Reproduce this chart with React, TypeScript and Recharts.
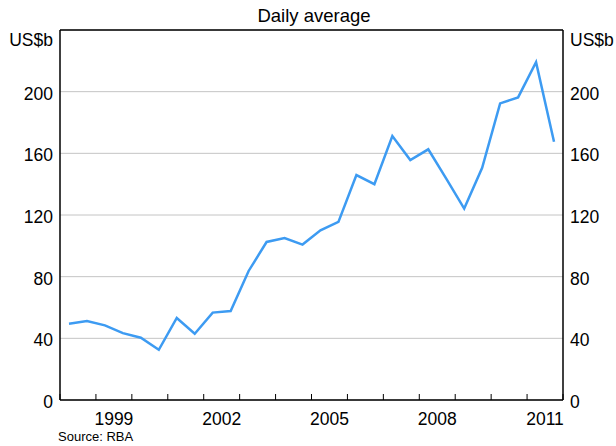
import { LineChart, Line, XAxis, YAxis, CartesianGrid, ReferenceLine } from 'recharts'

// half-year observations (mid-point of each half)
const periods = [
  1998.25, 1998.75, 1999.25, 1999.75, 2000.25, 2000.75, 2001.25, 2001.75,
  2002.25, 2002.75, 2003.25, 2003.75, 2004.25, 2004.75, 2005.25, 2005.75,
  2006.25, 2006.75, 2007.25, 2007.75, 2008.25, 2008.75, 2009.25, 2009.75,
  2010.25, 2010.75, 2011.25, 2011.75,
]
const turnover = [
  49.5, 51.2, 48.4, 43.4, 40.4, 32.6, 53.2, 43.0,
  56.7, 57.7, 83.7, 102.5, 105.1, 100.8, 110.1, 115.5,
  145.9, 140.0, 171.2, 155.6, 162.6, 143.6, 124.2, 150.6,
  192.4, 196.3, 219.1, 167.5,
]
const yearBoundaries = [
  1998, 1999, 2000, 2001, 2002, 2003, 2004, 2005, 2006, 2007, 2008, 2009, 2010, 2011, 2012,
]
const labelledYears = [1999, 2002, 2005, 2008, 2011]
const yTicks = [0, 40, 80, 120, 160, 200, 240]
const unitLabel = 'US$b'

const data = periods.map((p, i) => ({ period: p, value: turnover[i] }))
const labelTicks = labelledYears.map((y) => y + 0.5)
const xTicks = [...yearBoundaries, ...labelTicks].sort((a, b) => a - b)

const FONT = '"Liberation Sans", Arial, sans-serif'
const TICK_FONT = 17.5

function XTick({ x, y, payload }: any) {
  const v = payload.value as number
  if (Number.isInteger(v)) {
    return <line x1={x} x2={x} y1={y} y2={y - 6} stroke="#000" strokeWidth={1} />
  }
  return (
    <text x={x} y={y + 13} dy="0.71em" textAnchor="middle" fontSize={TICK_FONT} fill="#000" fontFamily={FONT}>
      {Math.floor(v)}
    </text>
  )
}

function YTick({ x, y, payload, textAnchor }: any) {
  const v = payload.value as number
  const top = v === yTicks[yTicks.length - 1]
  return (
    <text x={x} y={y} dy={top ? 16 : 8} textAnchor={textAnchor} fontSize={TICK_FONT} fill="#000" fontFamily={FONT}>
      {top ? unitLabel : v}
    </text>
  )
}

export default function App() {
  return (
    <div style={{ position: 'absolute', left: 0, top: 0, width: 616, height: 446, fontFamily: FONT, background: '#fff' }}>
      <div
        style={{
          position: 'absolute',
          left: 0,
          width: 628,
          top: 5,
          textAlign: 'center',
          fontSize: 18.5,
          lineHeight: '22px',
        }}
      >
        Daily average
      </div>
      <LineChart width={616} height={446} data={data} margin={{ top: 30, right: 0, bottom: 16, left: 0 }}>
        <CartesianGrid yAxisId="left" vertical={false} stroke="#c4c4c4" strokeWidth={1} />
        <XAxis
          dataKey="period"
          type="number"
          domain={[1998, 2012]}
          ticks={xTicks}
          interval={0}
          height={30}
          tickSize={0}
          tickMargin={0}
          tickLine={false}
          tick={<XTick />}
          axisLine={{ stroke: '#000', strokeWidth: 1.5 }}
          allowDataOverflow
        />
        <YAxis
          yAxisId="left"
          domain={[0, 240]}
          ticks={yTicks}
          interval={0}
          width={60}
          tickSize={0}
          tickMargin={7}
          tickLine={false}
          tick={<YTick />}
          axisLine={{ stroke: '#000', strokeWidth: 1.5 }}
          allowDataOverflow
        />
        <YAxis
          yAxisId="right"
          orientation="right"
          domain={[0, 240]}
          ticks={yTicks}
          interval={0}
          width={53}
          tickSize={0}
          tickMargin={7}
          tickLine={false}
          tick={<YTick />}
          axisLine={{ stroke: '#000', strokeWidth: 1.5 }}
          allowDataOverflow
        />
        <ReferenceLine yAxisId="left" y={240} stroke="#000" strokeWidth={1.5} />
        <Line
          yAxisId="right"
          dataKey="value"
          type="linear"
          stroke="none"
          dot={false}
          activeDot={false}
          isAnimationActive={false}
        />
        <Line
          yAxisId="left"
          dataKey="value"
          type="linear"
          stroke="#3d9bf2"
          strokeWidth={2.5}
          dot={false}
          isAnimationActive={false}
        />
      </LineChart>
      <div style={{ position: 'absolute', left: 58, top: 429, fontSize: 13, lineHeight: '16px' }}>Source: RBA</div>
    </div>
  )
}
